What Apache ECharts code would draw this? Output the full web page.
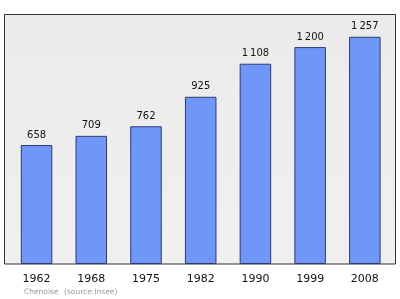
<!DOCTYPE html>
<html><head><meta charset="utf-8">
<script src="https://cdn.jsdelivr.net/npm/echarts@6/dist/echarts.min.js"></script>
<style>html,body{margin:0;padding:0;background:#fff}#c{width:400px;height:299px}</style>
</head><body><div id="c"></div>
<script>
const years = ['1962','1968','1975','1982','1990','1999','2008'];
const population = [658, 709, 762, 925, 1108, 1200, 1257];
const footnoteCommune = 'Chenoise';
const footnoteSource = '(source:Insee)';

const chart = echarts.init(document.getElementById('c'), null, {renderer:'canvas'});
const fmt = v => String(v).replace(/\B(?=(\d{3})+(?!\d))/g, '\u2009');
chart.setOption({
  animation: false,
  backgroundColor: '#ffffff',
  grid: {left: 9.2, right: 7.8, top: 14, bottom: 35, containLabel: false},
  graphic: [
    {type:'rect', z:-10, shape:{x:4.5, y:14.5, width:391, height:249.5},
     style:{fill:new echarts.graphic.LinearGradient(0,0,0,1,[{offset:0,color:'#ebebeb'},{offset:1,color:'#f0f0f0'}]), stroke:'#333', lineWidth:1}},
    {type:'text', left:24, top:288, style:{text:footnoteCommune, font:'7.5px "DejaVu Sans"', fill:'#9a9a9a'}},
    {type:'text', left:64, top:288, style:{text:footnoteSource, font:'7.5px "DejaVu Sans"', fill:'#9a9a9a'}}
  ],
  xAxis: {
    type:'category', data: years,
    axisLine:{show:false}, axisTick:{show:false},
    axisLabel:{margin:9.5, color:'#111', fontSize:11, fontFamily:'DejaVu Sans'}
  },
  yAxis: {type:'value', min:0, max:1383, show:false, splitLine:{show:false}},
  series: [{
    type:'bar', data: population, barWidth:'57.6%',
    itemStyle:{color:'#7097f8', borderColor:'#2d3c6e', borderWidth:1},
    label:{show:true, position:'top', distance:5, color:'#111', fontSize:10, fontFamily:'DejaVu Sans',
      formatter: p => fmt(p.value)}
  }]
});
</script></body></html>
